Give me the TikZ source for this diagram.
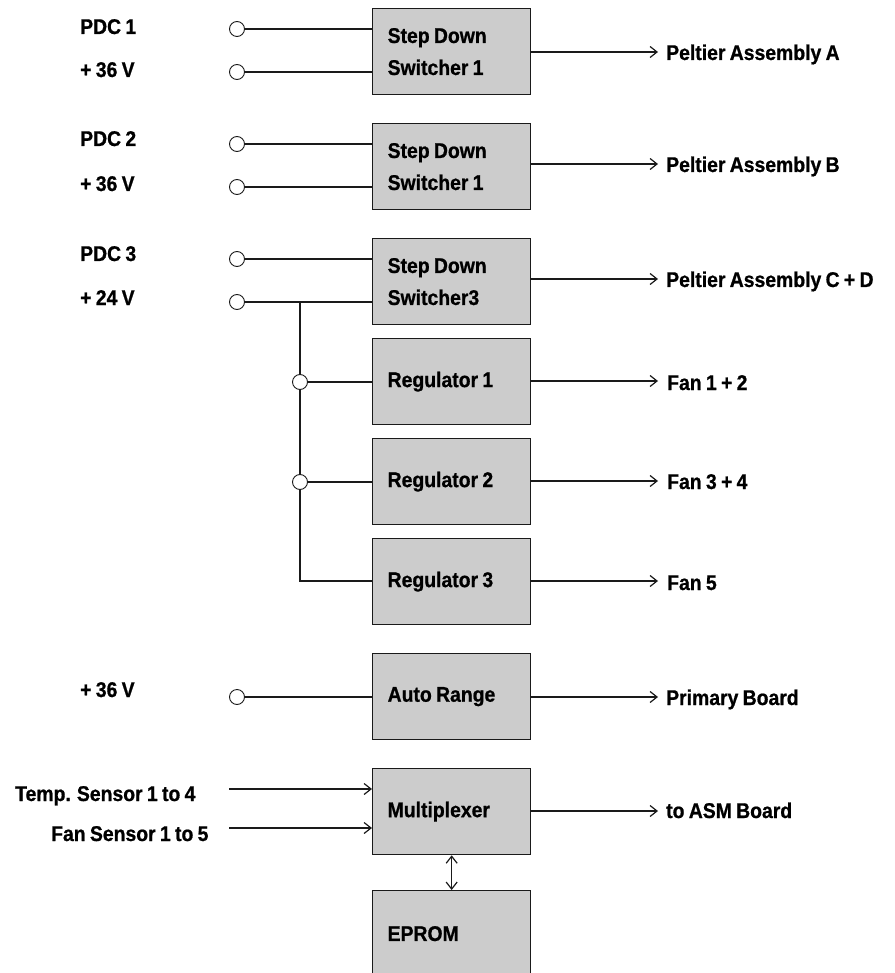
\documentclass[tikz,border=0pt]{standalone}
\usepackage{fontspec}
\setmainfont{Liberation Sans}[FakeStretch=0.91,WordSpace=0.8,BoldFeatures={FakeBold=0.8}]
\usetikzlibrary{arrows.meta}
\definecolor{boxgray}{HTML}{CCCCCC}
\definecolor{linec}{HTML}{1A1A1A}
\begin{document}
\begin{tikzpicture}[x=1pt,y=-1pt,
  font=\fontsize{21.3}{32}\selectfont\bfseries,
  box/.style={draw=linec, line width=1.3pt, fill=boxgray, anchor=north west,
    minimum width=158pt, minimum height=86pt, text width=128pt, inner xsep=15pt, align=flush left},
  term/.style={circle, draw=linec, fill=white, line width=0.9pt, minimum size=15pt, inner sep=0pt},
  wire/.style={draw=linec, line width=1.2pt},
  barb/.tip={Straight Barb[length=7pt,width=11pt]},
  arr/.style={wire, -barb},
  lbl/.style={anchor=base west, inner sep=0pt}]
\clip (0,0) rectangle (894,973);
% boxes
\node[box] (b1) at (372,8) {Step Down\\Switcher 1};
\node[box] (b2) at (372,123) {Step Down\\Switcher 1};
\node[box] (b3) at (372,238) {Step Down\\Switcher3};
\node[box] (r1) at (372,338) {Regulator 1};
\node[box] (r2) at (372,438) {Regulator 2};
\node[box] (r3) at (372,538) {Regulator 3};
\node[box] (ar) at (372,653) {Auto Range};
\node[box] (mx) at (372,768) {Multiplexer};
\node[box] (ep) at (372,890) {EPROM};
% input labels
\node[lbl] (l1a) at (80,34) {PDC 1};
\node[lbl] (l1b) at (80,77) {+ 36 V};
\node[lbl] (l2a) at (80,146) {PDC 2};
\node[lbl] (l2b) at (80,191) {+ 36 V};
\node[lbl] (l3a) at (80,261) {PDC 3};
\node[lbl] (l3b) at (80,305) {+ 24 V};
\node[lbl] (lar) at (80,697) {+ 36 V};
\node[lbl] (ls1) at (15,801) {Temp. Sensor 1 to 4};
\node[lbl] (ls2) at (51,841) {Fan Sensor 1 to 5};
% bus
\coordinate (j3) at (300,302);
\coordinate (j6) at (300,581);
\draw[wire] (j3) -- (j6) -- (j6 -| r3.west);
% terminals
\node[term] (t1a) at (237,29) {};
\node[term] (t1b) at (237,72) {};
\node[term] (t2a) at (237,144) {};
\node[term] (t2b) at (237,187) {};
\node[term] (t3a) at (237,259) {};
\node[term] (t3b) at (237,302) {};
\node[term] (tar) at (237,697) {};
\node[term] (tr1) at (300,382) {};
\node[term] (tr2) at (300,482) {};
\draw[wire] (t1a.east) -- (t1a.east -| b1.west);
\draw[wire] (t1b.east) -- (t1b.east -| b1.west);
\draw[wire] (t2a.east) -- (t2a.east -| b2.west);
\draw[wire] (t2b.east) -- (t2b.east -| b2.west);
\draw[wire] (t3a.east) -- (t3a.east -| b3.west);
\draw[wire] (t3b.east) -- (t3b.east -| b3.west);
\draw[wire] (tar.east) -- (tar.east -| ar.west);
\draw[wire] (tr1.east) -- (tr1.east -| r1.west);
\draw[wire] (tr2.east) -- (tr2.east -| r2.west);
% sensor inputs
\coordinate (s1) at (229,789);
\coordinate (s2) at (229,828);
\draw[arr] (s1) -- (s1 -| mx.west);
\draw[arr] (s2) -- (s2 -| mx.west);
% outputs
\coordinate (oA) at (658,52);
\coordinate (oB) at (658,164);
\coordinate (oC) at (658,279);
\coordinate (oF1) at (658,381);
\coordinate (oF2) at (658,481);
\coordinate (oF3) at (658,581);
\coordinate (oP) at (658,697);
\coordinate (oM) at (658,811);
\draw[arr] (oA -| b1.east) -- (oA);
\draw[arr] (oB -| b2.east) -- (oB);
\draw[arr] (oC -| b3.east) -- (oC);
\draw[arr] (oF1 -| r1.east) -- (oF1);
\draw[arr] (oF2 -| r2.east) -- (oF2);
\draw[arr] (oF3 -| r3.east) -- (oF3);
\draw[arr] (oP -| ar.east) -- (oP);
\draw[arr] (oM -| mx.east) -- (oM);
\node[lbl] (lA) at (666,60) {Peltier Assembly A};
\node[lbl] (lB) at (666,172) {Peltier Assembly B};
\node[lbl] (lC) at (666,287) {Peltier Assembly C + D};
\node[lbl] (lF1) at (667,390) {Fan 1 + 2};
\node[lbl] (lF2) at (667,489) {Fan 3 + 4};
\node[lbl] (lF3) at (667,590) {Fan 5};
\node[lbl] (lP) at (666,705) {Primary Board};
\node[lbl] (lM) at (666,818) {to ASM Board};
% EPROM link
\draw[wire, barb-barb] (mx.south) -- (ep.north);
\end{tikzpicture}
\end{document}
